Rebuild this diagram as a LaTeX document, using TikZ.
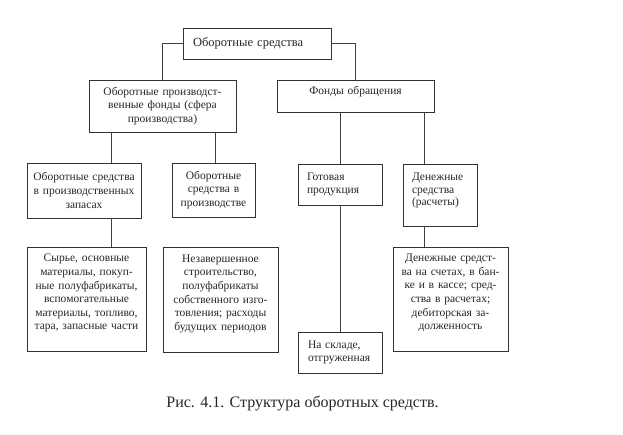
\documentclass[tikz,border=0pt]{standalone}
\usepackage{fontspec}
\setmainfont{Liberation Serif}
\usetikzlibrary{positioning}
\tikzset{
  blk/.style={draw=black!80, line width=0.7pt, text=black!85, align=center,
    font=\fontsize{11.5}{13.6}\selectfont, inner xsep=3pt, inner ysep=2pt},
  lblk/.style={blk, align=left, inner xsep=9pt},
  link/.style={draw=black!75, line width=0.7pt}
}
\begin{document}
\begin{tikzpicture}[x=1pt,y=-1pt]
\useasboundingbox (0,0) rectangle (623,435);
% top level
\node[lblk, inner xsep=10pt, text width=128pt, minimum height=31pt, font=\fontsize{12.5}{14}\selectfont] (root) at (257,43.5) {Оборотные средства};
% second level
\node[blk, text width=141pt, minimum height=52pt] (prod) at (162.5,106) {Оборотные производст-\\венные фонды (сфера\\производства)};
\node[blk, text width=151pt, minimum height=32pt, text depth=12pt] (circ) at (355.5,96) {Фонды обращения};
% third level
\node[blk, text width=108pt, minimum height=55pt] (stock) at (84,190.5) {Оборотные средства\\в производственных\\запасах};
\node[blk, text width=77pt, minimum height=54pt] (inprod) at (213.5,190) {Оборотные\\средства в\\производстве};
\node[lblk, text width=66pt, minimum height=41pt] (goods) at (340,184.5) {Готовая\\продукция};
\node[lblk, text width=56pt, minimum height=62pt, text depth=36pt, font=\fontsize{11.5}{12.5}\selectfont] (cash) at (440,195) {Денежные\\средства\\(расчеты)};
% fourth level
\node[blk, text width=113pt, minimum height=104pt, text depth=82pt] (raw) at (86.5,299) {Сырье, основные\\материалы, покуп-\\ные полуфабрикаты,\\вспомогательные\\материалы, топливо,\\тара, запасные части};
\node[blk, text width=109pt, minimum height=105pt, text depth=82pt] (wip) at (220.5,299.5) {Незавершенное\\строительство,\\полуфабрикаты\\собственного изго-\\товления; расходы\\будущих периодов};
\node[blk, text width=109pt, minimum height=104pt, text depth=82pt] (acc) at (450.5,299) {Денежные средст-\\ва на счетах, в бан-\\ке и в кассе; сред-\\ства в расчетах;\\дебиторская за-\\долженность};
\node[lblk, inner xsep=10pt, text width=64pt, minimum height=41pt] (store) at (340,352.5) {На складе,\\отгруженная};
% caption
\node[text=black!85, font=\fontsize{16}{18}\selectfont] (cap) at (302.5,403) {Рис. 4.1. Структура оборотных средств.};
% connectors
\coordinate (xl) at (111,0);
\coordinate (xm) at (215,0);
\coordinate (xr) at (424,0);
\draw[link] (root.west) -| (prod.north);
\draw[link] (root.east) -| (circ.north);
\draw[link] (prod.south -| xl) -- (stock.north -| xl);
\draw[link] (prod.south -| xm) -- (inprod.north -| xm);
\draw[link] (stock.south -| xl) -- (raw.north -| xl);
\draw[link] (circ.south -| goods.north) -- (goods.north);
\draw[link] (circ.south -| xr) -- (cash.north -| xr);
\draw[link] (goods.south) -- (store.north);
\draw[link] (cash.south -| xr) -- (acc.north -| xr);
\end{tikzpicture}
\end{document}
